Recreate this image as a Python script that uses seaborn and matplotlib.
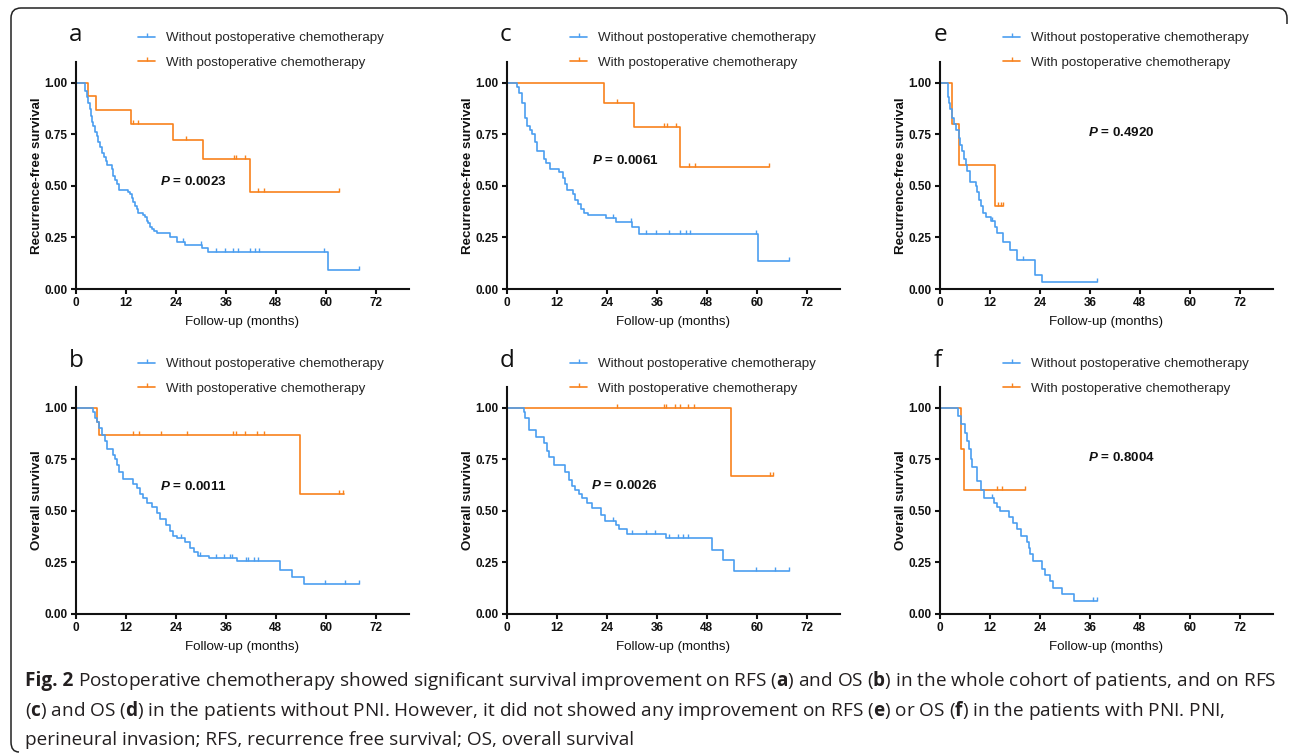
import numpy as np
import matplotlib
matplotlib.use("Agg")
import matplotlib.pyplot as plt
import seaborn as sns
from matplotlib.path import Path
from matplotlib.patches import PathPatch
from matplotlib.lines import Line2D
from matplotlib.ticker import FormatStrFormatter

# Kaplan-Meier steps: time (months) where survival changes, new survival
# panel a - RFS, whole cohort
a_wo_t = [0, 2.2, 2.6, 3.0, 3.3, 3.6, 3.9, 4.2, 4.6, 5.0, 5.4, 5.8, 6.2, 6.7, 7.1, 7.4, 8.6, 9.0, 9.4, 9.8,
          10.4, 12.6, 13.0, 13.4, 13.8, 14.2, 14.6, 15.0, 16.2, 16.6, 17.0, 17.4, 17.8, 18.3, 18.8, 19.4,
          22.6, 24.2, 26.2, 30.3, 31.6, 60.6, 68.0]
a_wo_s = [1.0, 0.96, 0.93, 0.90, 0.87, 0.84, 0.81, 0.79, 0.76, 0.74, 0.71, 0.69, 0.66, 0.64, 0.62, 0.60, 0.58, 0.55, 0.53, 0.51,
          0.48, 0.47, 0.46, 0.44, 0.42, 0.40, 0.39, 0.37, 0.36, 0.35, 0.33, 0.32, 0.30, 0.29, 0.28, 0.27,
          0.25, 0.23, 0.215, 0.20, 0.18, 0.09, 0.09]
a_wo_c = [25.7, 30.1, 33.7, 35.9, 37.7, 38.8, 41.7, 43.1, 44.0, 59.6, 68.0]
a_w_t = [0, 3.0, 4.7, 13.2, 23.4, 30.5, 41.7, 63.2]
a_w_s = [1.0, 0.933, 0.867, 0.80, 0.72, 0.63, 0.47, 0.47]
a_w_c = [13.6, 15.0, 26.5, 37.9, 38.5, 40.5, 43.7, 45.2, 63.2]

# panel b - OS, whole cohort
b_wo_t = [0, 4.0, 4.6, 5.1, 5.5, 6.2, 7.0, 7.5, 8.8, 9.4, 9.8, 10.4, 11.4, 13.8, 14.6, 15.4, 16.0, 17.0, 18.2, 19.4,
          20.2, 21.6, 22.6, 23.4, 24.2, 26.2, 27.4, 28.3, 29.4, 32.0, 38.6, 49.0, 52.0, 54.7, 68.0]
b_wo_s = [1.0, 0.98, 0.95, 0.93, 0.90, 0.865, 0.84, 0.80, 0.77, 0.75, 0.72, 0.69, 0.655, 0.63, 0.61, 0.58, 0.56, 0.54, 0.52, 0.49,
          0.46, 0.43, 0.40, 0.38, 0.37, 0.35, 0.32, 0.30, 0.28, 0.27, 0.255, 0.215, 0.18, 0.145, 0.145]
b_wo_c = [25.2, 29.9, 33.6, 35.5, 37.0, 37.5, 40.8, 41.4, 42.7, 43.8, 59.8, 64.6, 68.0]
b_w_t = [0, 5.0, 5.6, 53.9, 64.3]
b_w_s = [1.0, 0.932, 0.865, 0.58, 0.58]
b_w_c = [13.8, 15.2, 20.5, 26.6, 37.8, 38.4, 40.6, 43.6, 45.1, 63.2, 64.2]

# panel c - RFS, without PNI
c_wo_t = [0, 2.5, 3.0, 3.7, 4.25, 4.8, 5.5, 6.0, 6.7, 7.2, 8.9, 9.3, 10.3, 12.4, 13.5, 14.0, 14.4, 15.8, 16.4, 17.0,
          17.8, 18.4, 19.5, 23.9, 26.1, 30.0, 31.7, 60.4, 67.8]
c_wo_s = [1.0, 0.98, 0.95, 0.90, 0.83, 0.79, 0.77, 0.75, 0.71, 0.67, 0.63, 0.61, 0.58, 0.565, 0.54, 0.51, 0.48, 0.46, 0.43, 0.41,
          0.39, 0.37, 0.36, 0.345, 0.325, 0.30, 0.265, 0.135, 0.135]
c_wo_c = [25.5, 29.8, 33.5, 35.8, 38.9, 41.5, 43.0, 43.9, 59.8, 67.8]
c_w_t = [0, 23.3, 30.4, 41.5, 63.0]
c_w_s = [1.0, 0.90, 0.785, 0.59, 0.59]
c_w_c = [26.5, 37.8, 38.4, 40.5, 43.7, 45.1, 63.0]

# panel d - OS, without PNI
d_wo_t = [0, 4.0, 4.4, 5.2, 7.0, 9.0, 9.6, 10.2, 11.2, 14.0, 14.9, 15.6, 16.4, 17.2, 18.0, 19.2, 20.4, 22.6, 23.6, 26.2,
          27.0, 28.8, 38.2, 49.2, 51.8, 54.6, 67.8]
d_wo_s = [1.0, 0.98, 0.95, 0.89, 0.86, 0.83, 0.79, 0.76, 0.72, 0.69, 0.65, 0.62, 0.60, 0.58, 0.56, 0.54, 0.515, 0.48, 0.45, 0.43,
          0.41, 0.39, 0.37, 0.31, 0.26, 0.21, 0.21]
d_wo_c = [25.4, 30.0, 33.4, 35.6, 39.0, 41.0, 42.4, 43.6, 59.8, 64.4, 67.8]
d_w_t = [0, 53.8, 64.0]
d_w_s = [1.0, 0.667, 0.667]
d_w_c = [26.4, 37.8, 38.2, 40.4, 41.6, 43.6, 45.0, 63.2, 64.0]

# panel e - RFS, with PNI
e_wo_t = [0, 2.0, 2.2, 2.5, 2.9, 3.4, 3.8, 4.5, 4.8, 5.4, 5.8, 6.3, 6.6, 7.2, 8.7, 9.0, 9.4, 9.9, 10.4, 11.1,
          12.3, 13.1, 13.6, 15.1, 16.8, 18.4, 22.9, 24.5, 37.7]
e_wo_s = [1.0, 0.93, 0.90, 0.87, 0.83, 0.80, 0.77, 0.73, 0.70, 0.67, 0.63, 0.60, 0.57, 0.52, 0.50, 0.47, 0.43, 0.40, 0.37, 0.35,
          0.33, 0.30, 0.27, 0.23, 0.19, 0.14, 0.07, 0.035, 0.035]
e_wo_c = [12.6, 19.9, 37.7]
e_w_t = [0, 2.9, 4.6, 13.2, 15.1]
e_w_s = [1.0, 0.80, 0.60, 0.40, 0.40]
e_w_c = [14.0, 14.6, 15.1]

# panel f - OS, with PNI
f_wo_t = [0, 4.4, 5.0, 6.0, 6.4, 7.0, 7.4, 7.8, 8.8, 9.8, 10.6, 13.0, 13.8, 14.4, 16.6, 17.6, 18.4, 19.4, 21.0, 21.3,
          21.6, 22.4, 24.6, 25.2, 26.4, 27.2, 29.4, 32.2, 37.6]
f_wo_s = [1.0, 0.96, 0.92, 0.875, 0.84, 0.80, 0.75, 0.71, 0.645, 0.60, 0.56, 0.54, 0.52, 0.50, 0.47, 0.44, 0.41, 0.38, 0.35, 0.32,
          0.29, 0.255, 0.22, 0.19, 0.16, 0.125, 0.095, 0.063, 0.063]
f_wo_c = [12.4, 36.8, 37.6]
f_w_t = [0, 5.0, 5.8, 20.4]
f_w_s = [1.0, 0.80, 0.60, 0.60]
f_w_c = [13.6, 15.0, 20.4]

p_values = ["0.0023", "0.0011", "0.0061", "0.0026", "0.4920", "0.8004"]
panel_letters = ["a", "b", "c", "d", "e", "f"]
legend_labels = ["Without postoperative chemotherapy", "With postoperative chemotherapy"]
x_ticks = [0, 12, 24, 36, 48, 60, 72]
y_ticks = [0.0, 0.25, 0.5, 0.75, 1.0]

caption_head = "Fig. 2"
caption_lines = [
    r"Postoperative chemotherapy showed significant survival improvement on RFS ($\mathbf{a}$) and OS ($\mathbf{b}$) in the whole cohort of patients, and on RFS",
    r"($\mathbf{c}$) and OS ($\mathbf{d}$) in the patients without PNI. However, it did not showed any improvement on RFS ($\mathbf{e}$) or OS ($\mathbf{f}$) in the patients with PNI. PNI,",
    "perineural invasion; RFS, recurrence free survival; OS, overall survival",
]

sns.set_theme(style="ticks")
plt.rcParams["font.family"] = ["Liberation Sans", "DejaVu Sans"]
plt.rcParams["mathtext.fontset"] = "custom"
plt.rcParams["mathtext.rm"] = "Open Sans"
plt.rcParams["mathtext.bf"] = "Open Sans:bold"
plt.rcParams["mathtext.it"] = "Liberation Sans:italic:bold"

BLUE = "#4b9ef0"
ORANGE = "#f8821c"
W, H = 1290, 755

fig = plt.figure(figsize=(W / 100, H / 100), dpi=100)


def fx(x):
    return x / W


def fy(y):
    return 1 - y / H


tick_mark = Path([(0, 0), (0, 1)], [Path.MOVETO, Path.LINETO])


def step_at(t, s, c):
    idx = np.searchsorted(t, c, side="right") - 1
    return np.asarray(s)[idx]


def km(ax, t, s, cens, color):
    sns.lineplot(x=t, y=s, ax=ax, color=color, lw=1.2, drawstyle="steps-post",
                 estimator=None, sort=False, legend=False)
    ax.plot(cens, step_at(t, s, cens), ls="none", marker=tick_mark, ms=6, mew=1.0, color=color)


curves = {
    "a": (a_wo_t, a_wo_s, a_wo_c, a_w_t, a_w_s, a_w_c),
    "b": (b_wo_t, b_wo_s, b_wo_c, b_w_t, b_w_s, b_w_c),
    "c": (c_wo_t, c_wo_s, c_wo_c, c_w_t, c_w_s, c_w_c),
    "d": (d_wo_t, d_wo_s, d_wo_c, d_w_t, d_w_s, d_w_c),
    "e": (e_wo_t, e_wo_s, e_wo_c, e_w_t, e_w_s, e_w_c),
    "f": (f_wo_t, f_wo_s, f_wo_c, f_w_t, f_w_s, f_w_c),
}

# layout in pixels
col_left = [76, 507, 940]
row_top = [62, 387]
ax_w, ax_h = 333, 227
p_pos = {"a": (20.2, 0.52), "b": (20.2, 0.62), "c": (20.4, 0.625),
         "d": (20.2, 0.625), "e": (35.5, 0.76), "f": (35.5, 0.76)}
letter_x = [69, 500, 934]
letter_base = [41, 367]
legend_x = [138, 570, 1003]
legend_top = [32, 358]

handles = [Line2D([0], [0], color=c, lw=1.2, marker=tick_mark, ms=6, mew=1.0) for c in (BLUE, ORANGE)]

for i, letter in enumerate(panel_letters):
    col, row = i // 2, i % 2
    l, t = col_left[col], row_top[row]
    ax = fig.add_axes([fx(l), fy(t + ax_h), ax_w / W, ax_h / H])
    wo_t, wo_s, wo_c, w_t, w_s, w_c = curves[letter]
    km(ax, w_t, w_s, w_c, ORANGE)
    km(ax, wo_t, wo_s, wo_c, BLUE)

    ax.set_xlim(0, 80)
    ax.set_ylim(0, 1.10)
    ax.set_xticks(x_ticks)
    ax.set_yticks(y_ticks)
    ax.yaxis.set_major_formatter(FormatStrFormatter("%.2f"))
    for side in ("top", "right"):
        ax.spines[side].set_visible(False)
    for side in ("left", "bottom"):
        ax.spines[side].set_linewidth(1.5)
        ax.spines[side].set_color("#111111")
    ax.tick_params(direction="out", length=3.5, width=1.5, color="#111111", pad=2.5,
                   labelsize=8.5, labelcolor="#111111")
    for lab in ax.get_xticklabels() + ax.get_yticklabels():
        lab.set_fontweight("bold")
    ax.set_xlabel("Follow-up (months)", fontsize=9.6, labelpad=5, color="#111111")
    ax.set_ylabel("Recurrence-free survival" if row == 0 else "Overall survival",
                  fontsize=9.6, fontweight="bold", labelpad=1, color="#111111")

    px, py = p_pos[letter]
    ax.text(px, py, r"$\mathit{P}$ = " + p_values[i], fontsize=9.6, fontweight="bold",
            ha="left", va="center", color="#111111")

    ax.legend(handles, legend_labels, loc="upper left",
              bbox_to_anchor=(fx(legend_x[col]), fy(legend_top[row])), bbox_transform=fig.transFigure,
              frameon=False, fontsize=9.6, handlelength=1.3, handletextpad=0.8,
              labelspacing=0.93, borderpad=0, borderaxespad=0)

    fig.text(fx(letter_x[col]), fy(letter_base[row]), letter, fontsize=17.5,
             family="Open Sans", va="baseline", ha="left", color="#111111")

# caption: bold "Fig. 2" head, then the text, all fitted to the caption width
cap_base = [686, 716, 745]
cap_left = 25
fs0 = 13
head = fig.text(fx(cap_left), fy(cap_base[0]), caption_head, fontsize=fs0, family="Open Sans",
                fontweight="bold", va="baseline", ha="left", color="#231f20")
cap_texts = [fig.text(fx(cap_left), fy(b), line, fontsize=fs0, family="Open Sans",
                      va="baseline", ha="left", color="#231f20")
             for line, b in zip(caption_lines, cap_base)]
fig.canvas.draw()
r = fig.canvas.get_renderer()
head_w = head.get_window_extent(r).width
line_w = cap_texts[0].get_window_extent(r).width
gap = 0.27 * fs0 * 100 / 72
scale = 1250 / (head_w + gap + line_w)
fs = fs0 * scale
head.set_fontsize(fs)
for txt in cap_texts:
    txt.set_fontsize(fs)
cap_texts[0].set_x(fx(cap_left + (head_w + gap) * scale))

# figure frame (rounded corners top-left, top-right and bottom-left)
verts = [(1287, 24), (1287, 18), (1287, 8), (1277, 8), (21, 8), (11, 8), (11, 18),
         (11, 742), (11, 752), (19, 752)]
codes = [Path.MOVETO, Path.LINETO, Path.CURVE3, Path.CURVE3, Path.LINETO, Path.CURVE3, Path.CURVE3,
         Path.LINETO, Path.CURVE3, Path.CURVE3]
frame = Path([(fx(x), fy(y)) for x, y in verts], codes)
fig.patches.append(PathPatch(frame, transform=fig.transFigure, fill=False, lw=1.1, edgecolor="#222222"))

fig.savefig("out.png", dpi=100)
